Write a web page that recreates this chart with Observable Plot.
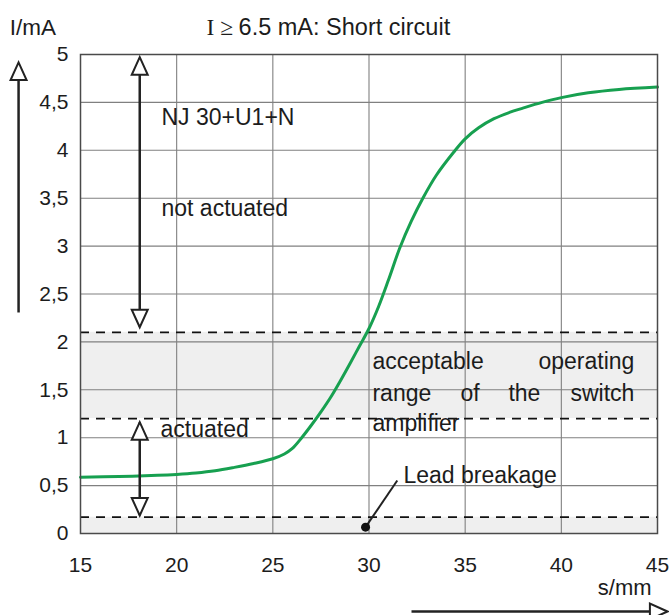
<!DOCTYPE html>
<html>
<head>
<meta charset="utf-8">
<script src="https://cdn.jsdelivr.net/npm/d3@7"></script>
<script src="https://cdn.jsdelivr.net/npm/@observablehq/plot@0.6"></script>
<style>
  body { margin: 0; background: #fff; }
  #chart svg { display: block; }
</style>
</head>
<body>
<div id="chart"></div>
<script>
// ---- data ----
const distance = [15, 17, 19, 20, 21, 22, 23, 24, 25, 25.6, 26, 26.5, 27, 27.5, 28, 28.5, 29, 29.5, 30, 30.5, 31, 31.6, 32.2, 32.8, 33.5, 34.4, 35, 35.7, 36.5, 37.3, 38, 39, 40, 41.4, 43, 45];
const current  = [0.587, 0.595, 0.607, 0.617, 0.632, 0.655, 0.69, 0.73, 0.78, 0.83, 0.885, 1.0, 1.13, 1.27, 1.42, 1.59, 1.77, 1.955, 2.14, 2.37, 2.64, 2.98, 3.26, 3.5, 3.74, 3.98, 4.12, 4.235, 4.33, 4.395, 4.44, 4.5, 4.55, 4.6, 4.635, 4.66];

const xDomain = [15, 45];
const yDomain = [0, 5];
const xTicks = [15, 20, 25, 30, 35, 40, 45];
const yTicks = [0, 0.5, 1, 1.5, 2, 2.5, 3, 3.5, 4, 4.5, 5];

const thresholds = [0.17, 1.2, 2.1];          // dashed limits
const bandLow  = [0, 1.2];                      // shaded ranges
const bandHigh = [0.17, 2.1];

// annotation texts and their anchor points (data units)
const labelText   = ["I/mA", "NJ 30+U1+N", "not actuated", "actuated", "acceptable", "operating", "range", "of", "the", "switch", "amplifier", "Lead breakage", "s/mm"];
const labelX      = [11.32, 19.21, 19.21, 19.16, 30.18, 43.80, 30.18, 34.76, 37.25, 43.80, 30.18, 31.79, 44.69];
const labelY      = [5.2, 4.259, 3.312, 1.005, 1.712, 1.712, 1.388, 1.388, 1.388, 1.388, 1.065, 0.522, -0.647];
const labelAnchor = ["start", "start", "start", "start", "start", "end", "start", "start", "start", "end", "start", "start", "end"];
const labelSize   = [22.5, 23, 23, 23, 23, 23, 23, 23, 23, 23, 23, 23, 22];

const titleSymbol = "I \u2265";
const titleText = "6.5 mA: Short circuit";
const titleX = [21.55, 23.22];
const titleY = 5.2;

// arrow shafts
const shaftX1 = [11.78, 18.08, 18.08, 32.21];
const shaftY1 = [2.307, 2.16, 0.19, -0.814];
const shaftX2 = [11.78, 18.08, 18.08, 45.4];
const shaftY2 = [4.9, 4.96, 1.16, -0.814];
// arrow heads (tip position, direction in degrees)
const headX   = [11.78, 18.08, 18.08, 18.08, 18.08, 45.52];
const headY   = [4.917, 4.972, 2.153, 1.162, 0.188, -0.814];
const headRot = [0, 0, 180, 0, 180, 90];

// lead breakage marker
const leadDot = {x: 29.82, y: 0.066};
const leadEnd = {x: 31.47, y: 0.553};

// ---- derived tables ----
const curveData = distance.map((s, i) => ({s, i: current[i]}));
const bands = bandLow.map((lo, i) => ({lo, hi: bandHigh[i]}));
const labels = labelText.map((t, i) => ({t, x: labelX[i], y: labelY[i], a: labelAnchor[i], f: labelSize[i]}));
const shafts = shaftX1.map((x1, i) => ({x1, y1: shaftY1[i], x2: shaftX2[i], y2: shaftY2[i]}));
const heads = headX.map((x, i) => ({x, y: headY[i], r: headRot[i]}));

const arrowHead = {
  draw(ctx, size) {
    const r = Math.sqrt(size / Math.PI);
    const h = r * 2.2, w = r * 1.0;
    ctx.moveTo(0, 0);
    ctx.lineTo(-w, h);
    ctx.lineTo(w, h);
    ctx.closePath();
  }
};

const fmt = d => String(d).replace(".", ",");
const ink = "#1c1c1c";
const sans = "Liberation Sans, Arial, Helvetica, sans-serif";

const chart = Plot.plot({
  width: 669,
  height: 615,
  marginLeft: 80,
  marginRight: 12,
  marginTop: 54,
  marginBottom: 82,
  style: {fontFamily: sans, background: "#fff", color: ink, fontSize: "21px"},
  x: {domain: xDomain},
  y: {domain: yDomain},
  marks: [
    Plot.rect(bands, {x1: () => xDomain[0], x2: () => xDomain[1], y1: "lo", y2: "hi", fill: "#efefef"}),
    Plot.gridX(xTicks.slice(1, -1), {stroke: "#808080", strokeOpacity: 1, strokeWidth: 1.1}),
    Plot.gridY(yTicks.slice(1, -1), {stroke: "#808080", strokeOpacity: 1, strokeWidth: 1.1}),
    Plot.ruleY(thresholds, {stroke: "#111", strokeWidth: 1.8, strokeDasharray: "9,7"}),
    Plot.line(curveData, {x: "s", y: "i", stroke: "#17a050", strokeWidth: 3, curve: "catmull-rom"}),
    Plot.frame({stroke: "#4a4a4a", strokeWidth: 1.5}),
    Plot.axisX({ticks: xTicks, tickSize: 0, tickPadding: 24, fontSize: 21, tickFormat: fmt, label: null}),
    Plot.axisY({ticks: yTicks, tickSize: 0, tickPadding: 12, fontSize: 21, tickFormat: fmt, label: null}),
    Plot.link(shafts, {x1: "x1", y1: "y1", x2: "x2", y2: "y2", stroke: "#222", strokeWidth: 2.5}),
    Plot.dot(heads, {x: "x", y: "y", rotate: "r", symbol: arrowHead, r: 8, fill: "#fff", stroke: "#222", strokeWidth: 2}),
    Plot.link([leadDot], {x1: "x", y1: "y", x2: () => leadEnd.x, y2: () => leadEnd.y, stroke: "#222", strokeWidth: 2}),
    Plot.dot([leadDot], {x: "x", y: "y", r: 4.5, fill: "#111", stroke: "none"}),
    Plot.text(labels.filter(d => d.a === "start"), {x: "x", y: "y", text: "t", textAnchor: "start", lineAnchor: "bottom", fontSize: d => d.f, fill: ink, fontFamily: sans}),
    Plot.text(labels.filter(d => d.a === "end"), {x: "x", y: "y", text: "t", textAnchor: "end", lineAnchor: "bottom", fontSize: d => d.f, fill: ink, fontFamily: sans}),
    Plot.text([titleSymbol], {x: () => titleX[0], y: () => titleY, text: d => d, textAnchor: "start", lineAnchor: "bottom", fontSize: 23.5, fill: ink, fontFamily: "Liberation Serif, Times New Roman, serif"}),
    Plot.text([titleText], {x: () => titleX[1], y: () => titleY, text: d => d, textAnchor: "start", lineAnchor: "bottom", fontSize: 23.5, fill: ink, fontFamily: sans})
  ]
});

document.getElementById("chart").appendChild(chart);
</script>
</body>
</html>
